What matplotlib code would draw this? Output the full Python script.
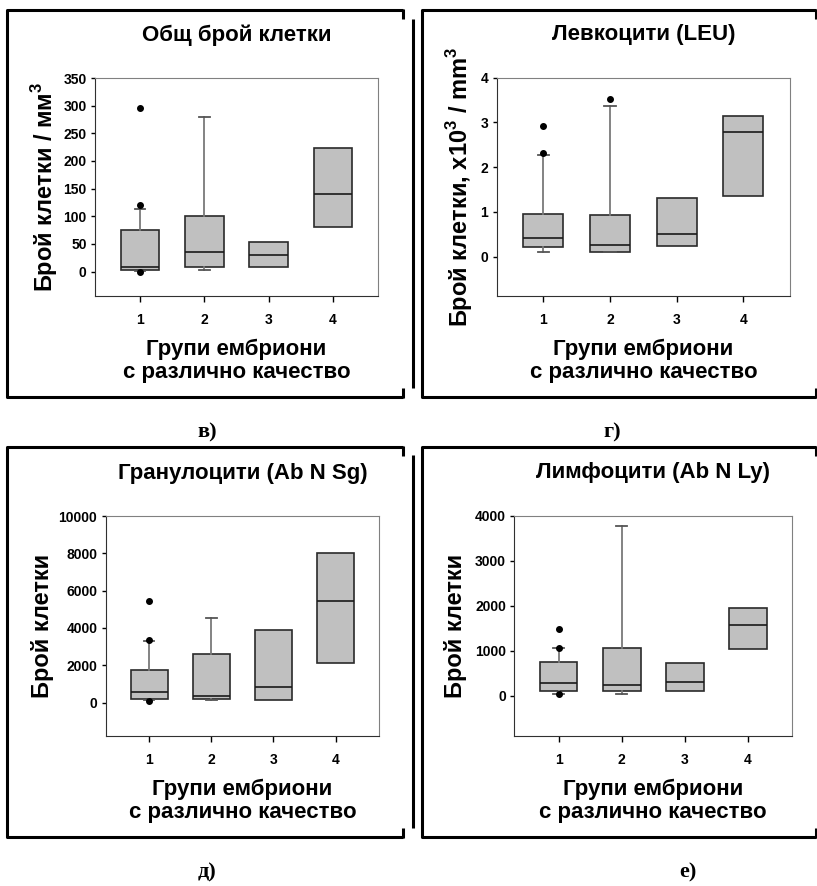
import matplotlib
matplotlib.use("Agg")
import matplotlib.pyplot as plt
from matplotlib.lines import Line2D

plt.rcParams['font.family'] = ['Liberation Sans', 'DejaVu Sans']
plt.rcParams['font.weight'] = 'bold'
plt.rcParams['mathtext.fontset'] = 'custom'
plt.rcParams['mathtext.rm'] = 'Liberation Sans:bold'
plt.rcParams['mathtext.bf'] = 'Liberation Sans:bold'

W, H = 817, 886
groups = [1, 2, 3, 4]
xlabel = 'Групи ембриони\nс различно качество'

# в) Общ брой клетки
total_lo = [1, 2.5, 8, 81]
total_q1 = [3, 8, 8, 81]
total_med = [9, 35, 31, 140]
total_q3 = [75, 100, 53, 224]
total_hi = [114, 280, 53, 224]
total_out = [[295, 120, 0], [], [], []]

# г) Левкоцити (LEU)
leu_lo = [0.11, 0.10, 0.23, 1.36]
leu_q1 = [0.21, 0.11, 0.23, 1.36]
leu_med = [0.41, 0.26, 0.51, 2.79]
leu_q3 = [0.95, 0.92, 1.30, 3.14]
leu_hi = [2.27, 3.37, 1.30, 3.14]
leu_out = [[2.92, 2.31], [3.52], [], []]

# д) Гранулоцити (Ab N Sg)
gran_lo = [150, 125, 160, 2140]
gran_q1 = [182, 215, 160, 2140]
gran_med = [590, 360, 825, 5430]
gran_q3 = [1750, 2610, 3910, 8000]
gran_hi = [3300, 4550, 3910, 8000]
gran_out = [[5460, 3340, 80], [], [], []]

# е) Лимфоцити (Ab N Ly)
lym_lo = [40, 30, 104, 1030]
lym_q1 = [111, 104, 104, 1030]
lym_med = [275, 245, 297, 1565]
lym_q3 = [742, 1067, 720, 1956]
lym_hi = [1060, 3764, 720, 1956]
lym_out = [[1475, 1060, 40], [], [], []]

fig = plt.figure(figsize=(W / 100, H / 100), dpi=100)


def fx(x):
    return x / W


def fy(y):
    return 1 - y / H


def line(xs, ys, lw=2.2):
    fig.add_artist(Line2D([fx(v) for v in xs], [fy(v) for v in ys],
                          color='black', lw=lw, solid_capstyle='butt'))


def box_panel(rect, lo, q1, med, q3, hi, out, ylim, yticks, title, ylabel, ylx):
    left, top, right, bottom = rect
    ax = fig.add_axes([fx(left), fy(bottom), (right - left) / W, (bottom - top) / H])
    stats = [dict(whislo=a, q1=b, med=c, q3=d, whishi=e, fliers=f)
             for a, b, c, d, e, f in zip(lo, q1, med, q3, hi, out)]
    parts = ax.bxp(stats, positions=groups, widths=0.6, capwidths=0.17,
                   patch_artist=True,
                   boxprops=dict(facecolor='#c0c0c0', edgecolor='#2a2a2a', lw=1.2),
                   medianprops=dict(color='#1a1a1a', lw=1.2),
                   whiskerprops=dict(color='#7a7a7a', lw=1.3),
                   capprops=dict(color='#555555', lw=1.3),
                   flierprops=dict(marker='o', markerfacecolor='black',
                                   markeredgecolor='black', markersize=4))
    for i in range(len(stats)):
        if lo[i] >= q1[i]:
            parts['whiskers'][2 * i].set_visible(False)
            parts['caps'][2 * i].set_visible(False)
        if hi[i] <= q3[i]:
            parts['whiskers'][2 * i + 1].set_visible(False)
            parts['caps'][2 * i + 1].set_visible(False)
    ax.set_xlim(0.3, 4.7)
    ax.set_ylim(*ylim)
    ax.set_yticks(yticks)
    ax.set_xticks(groups)
    ax.set_xticklabels([str(g) for g in groups])
    ax.tick_params(axis='y', direction='out', length=3, width=1, labelsize=10, pad=3)
    ax.tick_params(axis='x', direction='out', length=4, width=1, labelsize=10, pad=8)
    for lab in ax.get_xticklabels() + ax.get_yticklabels():
        lab.set_fontweight('bold')
    for s in ['left', 'bottom']:
        ax.spines[s].set_color('#303030')
    for s in ['top', 'right']:
        ax.spines[s].set_color('#808080')
    cx = (left + right) / 2
    fig.text(fx(cx), fy(top - 43), title, ha='center', va='center',
             fontsize=16, fontweight='bold')
    fig.text(fx(cx), fy(bottom + 65), xlabel, ha='center', va='center',
             fontsize=16, fontweight='bold', linespacing=1.15)
    fig.text(fx(ylx), fy((top + bottom) / 2), ylabel, ha='center', va='center',
             rotation=90, fontsize=17, fontweight='bold')
    return ax


box_panel((95, 78, 378, 296), total_lo, total_q1, total_med, total_q3, total_hi,
          total_out, (-44, 350), range(0, 351, 50), 'Общ брой клетки',
          'Брой клетки / мм$^\\mathbf{3}$', 45)
box_panel((496.7, 77.7, 790, 296), leu_lo, leu_q1, leu_med, leu_q3, leu_hi,
          leu_out, (-0.88, 4), range(0, 5), 'Левкоцити (LEU)',
          'Брой клетки, x10$^\\mathbf{3}$ / mm$^\\mathbf{3}$', 460)
box_panel((105.7, 516, 379, 736), gran_lo, gran_q1, gran_med, gran_q3, gran_hi,
          gran_out, (-1790, 10000), range(0, 10001, 2000), 'Гранулоцити (Ab N Sg)',
          'Брой клетки', 42)
box_panel((514.3, 515.7, 792.3, 736), lym_lo, lym_q1, lym_med, lym_q3, lym_hi,
          lym_out, (-900, 4000), range(0, 4001, 1000), 'Лимфоцити (Ab N Ly)',
          'Брой клетки', 455)

# panel frames
for top, bottom in [(10, 397), (446.7, 837.3)]:
    line([402.5, 7, 7, 402.5], [top, top, bottom, bottom])
    line([402.5, 402.5], [top - 1, top + 9])
    line([402.5, 402.5], [bottom - 9, bottom + 1])
    line([815.5, 421.7, 421.7, 815.5], [top, top, bottom, bottom])
    line([815.5, 815.5], [top - 1, top + 9])
    line([815.5, 815.5], [bottom - 9, bottom + 1])
    line([412.5, 412.5], [top + 8.5, bottom - 9])

serif = ['Liberation Serif', 'DejaVu Serif']
for x, y, s in [(207, 432, 'в)'), (612, 432, 'г)'), (207, 872, 'д)'), (688, 872, 'е)')]:
    fig.text(fx(x), fy(y), s, ha='center', va='center', fontsize=16,
             fontweight='bold', family=serif)

fig.savefig('out.png', dpi=100, facecolor='white')
